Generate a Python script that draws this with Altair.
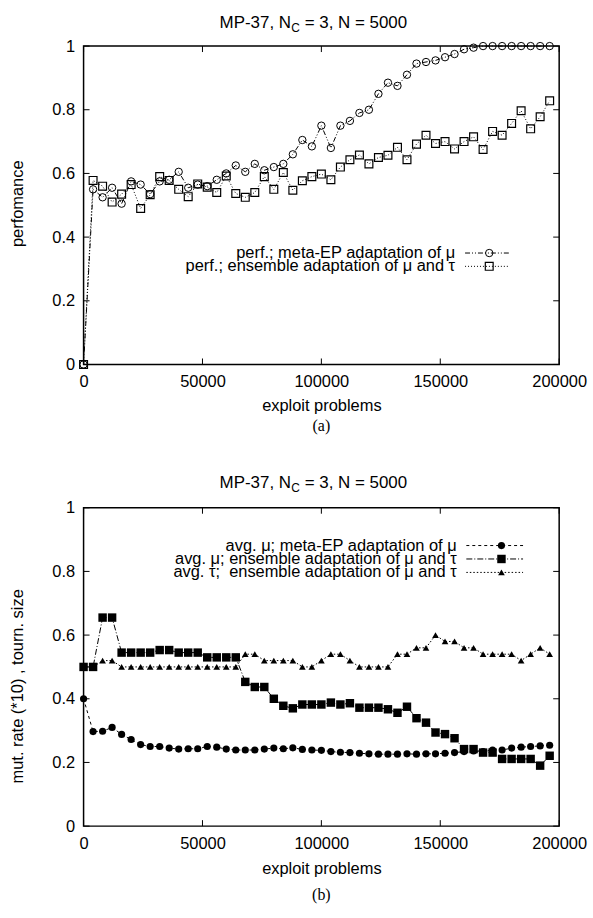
import altair as alt
import pandas as pd

# ---------------- data ----------------
x_vals = [0, 4000, 8000, 12000, 16000, 20000, 24000, 28000, 32000, 36000,
          40000, 44000, 48000, 52000, 56000, 60000, 64000, 68000, 72000, 76000,
          80000, 84000, 88000, 92000, 96000, 100000, 104000, 108000, 112000, 116000,
          120000, 124000, 128000, 132000, 136000, 140000, 144000, 148000, 152000, 156000,
          160000, 164000, 168000, 172000, 176000, 180000, 184000, 188000, 192000, 196000]

perf_meta = [0.0, 0.55, 0.525, 0.555, 0.505, 0.575, 0.565, 0.535, 0.575, 0.58,
             0.605, 0.555, 0.565, 0.56, 0.58, 0.60, 0.625, 0.605, 0.63, 0.61,
             0.62, 0.63, 0.66, 0.705, 0.685, 0.75, 0.68, 0.75, 0.765, 0.79,
             0.80, 0.85, 0.885, 0.875, 0.91, 0.945, 0.95, 0.955, 0.965, 0.975,
             0.99, 0.995, 1.0, 1.0, 1.0, 1.0, 1.0, 1.0, 1.0, 1.0]

perf_ens = [0.0, 0.578, 0.56, 0.51, 0.535, 0.565, 0.49, 0.533, 0.59, 0.578,
            0.55, 0.527, 0.567, 0.557, 0.54, 0.592, 0.537, 0.525, 0.54, 0.59,
            0.55, 0.603, 0.547, 0.577, 0.59, 0.598, 0.58, 0.62, 0.643, 0.658,
            0.63, 0.65, 0.657, 0.682, 0.643, 0.692, 0.72, 0.694, 0.70, 0.677,
            0.70, 0.715, 0.675, 0.732, 0.72, 0.757, 0.797, 0.74, 0.778, 0.828]

avg_mu_meta = [0.40, 0.297, 0.298, 0.31, 0.288, 0.272, 0.256, 0.25, 0.25, 0.245,
               0.242, 0.243, 0.243, 0.25, 0.248, 0.242, 0.239, 0.239, 0.239, 0.242,
               0.245, 0.243, 0.246, 0.241, 0.239, 0.238, 0.234, 0.232, 0.231, 0.229,
               0.227, 0.226, 0.226, 0.226, 0.227, 0.226, 0.227, 0.227, 0.229, 0.231,
               0.234, 0.236, 0.234, 0.239, 0.239, 0.245, 0.248, 0.25, 0.252, 0.254]

avg_mu_ens = [0.50, 0.50, 0.655, 0.655, 0.545, 0.545, 0.545, 0.545, 0.553, 0.553,
              0.545, 0.545, 0.545, 0.53, 0.53, 0.53, 0.53, 0.453, 0.437, 0.437,
              0.40, 0.378, 0.37, 0.382, 0.382, 0.382, 0.388, 0.382, 0.386, 0.372,
              0.372, 0.372, 0.367, 0.356, 0.375, 0.339, 0.325, 0.294, 0.289, 0.276,
              0.242, 0.242, 0.231, 0.231, 0.211, 0.211, 0.211, 0.211, 0.19, 0.221]

avg_tau_ens = [0.50, 0.50, 0.52, 0.52, 0.50, 0.50, 0.50, 0.50, 0.50, 0.50,
               0.50, 0.50, 0.50, 0.50, 0.50, 0.50, 0.50, 0.54, 0.54, 0.52,
               0.52, 0.52, 0.52, 0.50, 0.50, 0.52, 0.54, 0.54, 0.52, 0.50,
               0.50, 0.50, 0.50, 0.54, 0.54, 0.56, 0.56, 0.60, 0.58, 0.58,
               0.56, 0.56, 0.54, 0.54, 0.54, 0.54, 0.52, 0.54, 0.56, 0.54]

x_ticks = [0, 50000, 100000, 150000, 200000]
y_ticks = [0, 0.2, 0.4, 0.6, 0.8, 1.0]

title_main = "MP-37, N"
title_sub = "C"
title_rest = "= 3, N = 5000"
x_title = "exploit problems"
y_title_a = "perfomance"
y_title_b = "mut. rate (*10) , tourn. size"
legend_a = ["perf.; meta-EP adaptation of \u03bc",
            "perf.; ensemble adaptation of \u03bc and \u03c4"]
legend_b = ["avg. \u03bc; meta-EP adaptation of \u03bc",
            "avg. \u03bc; ensemble adaptation of \u03bc and \u03c4",
            "avg. \u03c4;\u00a0 ensemble adaptation of \u03bc and \u03c4"]

# ---------------- styling ----------------
FONT = "Liberation Sans"
FS = 16.5
W, H = 478, 320

xsc = alt.Scale(domain=[0, 200000], nice=False, zero=False)
ysc = alt.Scale(domain=[0, 1], nice=False, zero=False)

one = pd.DataFrame({"k": [0]})


def X(title_y):
    return alt.X("x:Q", scale=xsc,
                 axis=alt.Axis(values=x_ticks, format="d", title=x_title,
                               titleY=title_y, titleBaseline="middle",
                               labelPadding=9, labelFlush=False, labelOverlap=False,
                               labelFont=FONT, labelFontSize=FS, labelColor="black",
                               titleFont=FONT, titleFontSize=FS, titleColor="black",
                               titleFontWeight="normal",
                               ticks=False, domain=False, grid=False))


def Y(title, title_y):
    return alt.Y("y:Q", scale=ysc,
                 axis=alt.Axis(values=y_ticks, format="~g", title=title,
                               titleX=-66.6, titleY=title_y, titleAngle=270,
                               titleBaseline="middle", titleAlign="center",
                               labelPadding=9, labelFont=FONT, labelFontSize=FS,
                               labelColor="black", titleFont=FONT, titleFontSize=FS,
                               titleColor="black", titleFontWeight="normal",
                               ticks=False, domain=False, grid=False))


def txt(s, x, y, align="left", size=FS, font=FONT, baseline="alphabetic"):
    return alt.Chart(one).mark_text(text=s, align=align, baseline=baseline, fontSize=size,
                                    font=font, color="black").encode(
        x=alt.value(x), y=alt.value(y))


def seg(x1, x2, y, dash):
    return alt.Chart(one).mark_rule(color="black", strokeWidth=1, strokeDash=dash).encode(
        x=alt.value(x1), x2=alt.value(x2), y=alt.value(y))


def sym(x, y, shape, filled, size, sw=1.0):
    return alt.Chart(one).mark_point(shape=shape, filled=filled, size=size, color="black",
                                     opacity=1, strokeWidth=sw).encode(
        x=alt.value(x), y=alt.value(y))


def panel(series, y_title, y_title_y, x_title_y, legend, leg_rows, leg_text_x,
          leg_x1, leg_x2, leg_sym_x, title_base, sub_base, label, label_y):
    xenc = X(x_title_y)
    yenc = Y(y_title, y_title_y)
    layers = []
    # inward border ticks
    xt = pd.DataFrame({"x": x_ticks})
    yt = pd.DataFrame({"y": y_ticks})
    layers.append(alt.Chart(xt).mark_rule(color="black", strokeWidth=1).encode(
        x=xenc, y=alt.value(H), y2=alt.value(H - 6)))
    layers.append(alt.Chart(xt).mark_rule(color="black", strokeWidth=1).encode(
        x=xenc, y=alt.value(0), y2=alt.value(6)))
    layers.append(alt.Chart(yt).mark_rule(color="black", strokeWidth=1).encode(
        y=yenc, x=alt.value(0), x2=alt.value(6)))
    layers.append(alt.Chart(yt).mark_rule(color="black", strokeWidth=1).encode(
        y=yenc, x=alt.value(W), x2=alt.value(W - 6)))
    # series
    for ys, dash, shape, filled, size, sw in series:
        df = pd.DataFrame({"x": x_vals, "y": ys})
        layers.append(alt.Chart(df).mark_line(color="black", strokeWidth=1,
                                              strokeDash=dash).encode(x=xenc, y=yenc))
        layers.append(alt.Chart(df).mark_point(shape=shape, filled=filled, size=size,
                                               color="black", opacity=1,
                                               strokeWidth=sw).encode(x=xenc, y=yenc))
    # legend
    for (ys, dash, shape, filled, size, sw), lab, ry in zip(series, legend, leg_rows):
        layers.append(txt(lab, leg_text_x, ry, align="right", baseline="middle", size=16.5))
        layers.append(seg(leg_x1, leg_x2, ry, dash))
        layers.append(sym(leg_sym_x, ry, shape, filled, size, sw))
    # title with subscript
    layers.append(txt(title_main, 208.5, title_base, align="right", size=17))
    layers.append(txt(title_sub, 208.8, sub_base, align="left", size=12))
    layers.append(txt(title_rest, 222.2, title_base, align="left", size=17))
    # panel label
    layers.append(txt(label, W / 2, label_y, align="center", size=16,
                      font="Liberation Serif", baseline="middle"))
    return alt.layer(*layers).properties(width=W, height=H)


top = panel(
    series=[(perf_meta, [5, 2, 1, 2, 1, 2], "circle", False, 55, 1.0),
            (perf_ens, [1, 2], "square", False, 62, 1.2)],
    y_title=y_title_a, y_title_y=158, x_title_y=41,
    legend=legend_a, leg_rows=[208, 221.4], leg_text_x=373.4,
    leg_x1=383.4, leg_x2=428.4, leg_sym_x=407.7,
    title_base=-18.6, sub_base=-14.6, label="(a)", label_y=382)

bottom = panel(
    series=[(avg_mu_meta, [3, 3], "circle", True, 52, 1.0),
            (avg_mu_ens, [6, 2, 1, 2], "square", True, 72, 1.0),
            (avg_tau_ens, [1.5, 2], "triangle-up", True, 45, 1.0)],
    y_title=y_title_b, y_title_y=179, x_title_y=43,
    legend=legend_b, leg_rows=[38, 51.5, 65], leg_text_x=375,
    leg_x1=384.7, leg_x2=441.7, leg_sym_x=420,
    title_base=-20.3, sub_base=-16.3, label="(b)", label_y=389)

chart = alt.vconcat(top, bottom, spacing=144, bounds="flush").properties(
    padding={"left": 8, "top": 10, "right": 5, "bottom": 5},
    background="white"
).configure_view(stroke="black", strokeWidth=1.5)

chart.save("out.html", embed_options={"renderer": "svg", "actions": False})
